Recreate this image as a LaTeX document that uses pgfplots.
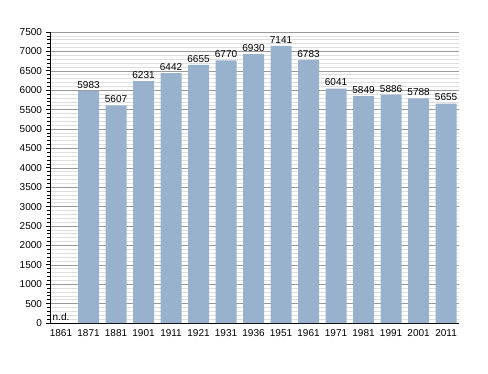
\documentclass[border=0pt]{standalone}
\usepackage{pgfplots}
\pgfplotsset{compat=1.18}
\usepackage{fontspec}
\setmainfont{Liberation Sans}
\definecolor{barc}{HTML}{98B2CE}
\begin{document}
\begin{tikzpicture}
\useasboundingbox (-50pt,-50pt) rectangle (438pt,323pt);
\begin{axis}[
  at={(0,0)}, anchor=south west,
  scale only axis, width=409pt, height=291pt,
  ybar, bar width=21pt,
  xmin=-0.4, xmax=14.47,
  ymin=0, ymax=7500,
  xtick={0,...,14},
  xticklabels={1861,1871,1881,1901,1911,1921,1931,1936,1951,1961,1971,1981,1991,2001,2011},
  ytick={0,500,...,7500},
  minor y tick num=4,
  ymajorgrids, yminorgrids,
  major grid style={draw=black!40, line width=0.6pt},
  minor grid style={draw=black!13, line width=0.6pt},
  axis x line*=bottom, axis y line*=left,
  axis line style={black, line width=0.9pt, -},
  tick style={black, line width=0.7pt},
  major tick length=3.5pt, minor tick length=3pt,
  ytick align=outside, xtick style={draw=none},
  tick label style={font=\fontsize{10}{12}\selectfont},
  /pgf/number format/assume math mode=true,
  /pgf/number format/1000 sep={},
  yticklabel style={xshift=-1pt},
  xticklabel style={yshift=1pt},
  nodes near coords,
  every node near coord/.append style={font=\fontsize{10}{12}\selectfont, yshift=-1pt},
  clip=false,
]
\addplot[fill=barc, draw=none] coordinates {
(1,5983) (2,5607) (3,6231) (4,6442) (5,6655) (6,6770) (7,6930)
(8,7141) (9,6783) (10,6041) (11,5849) (12,5886) (13,5788) (14,5655)};
\node[font=\fontsize{10}{12}\selectfont, anchor=south, yshift=-1pt] at (axis cs:0,0) {n.d.};
\end{axis}
\end{tikzpicture}
\end{document}
